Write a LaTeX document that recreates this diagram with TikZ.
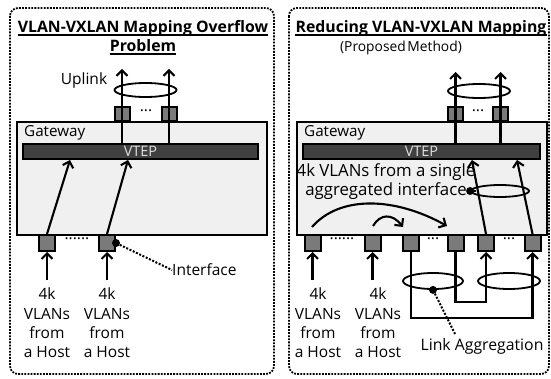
\documentclass[tikz,border=0pt]{standalone}
\usepackage{fontspec}
\setmainfont{Open Sans}
\usetikzlibrary{arrows.meta,shapes.geometric}
\definecolor{gwfill}{HTML}{F0F0F0}
\definecolor{vtepfill}{HTML}{404040}
\definecolor{portfill}{HTML}{7A7A7A}
\definecolor{vteptext}{HTML}{E0E0E0}
\tikzset{
  panel/.style={draw, line width=1.8pt, dash pattern=on 1.8pt off 1.3pt, rounded corners=8pt},
  gwbox/.style={draw, fill=gwfill, line width=1.8pt, minimum width=250pt, minimum height=113pt, inner sep=0pt},
  vtepbar/.style={draw, fill=vtepfill, line width=1.4pt, minimum height=15pt, inner sep=0pt,
    text=vteptext, font=\fontsize{14.5}{14}\selectfont},
  port/.style={draw, fill=portfill, line width=2pt, minimum width=15pt, minimum height=15pt, inner sep=0pt},
  wire/.style={line width=2.1pt},
  arr/.style={wire, -{Straight Barb[length=5.5pt,width=11pt,line width=2.1pt]}},
  lagring/.style={draw, ellipse, line width=1.8pt, inner sep=0pt},
  dotmark/.style={circle, fill=black, minimum size=8pt, inner sep=0pt},
  lead/.style={line width=2pt, dash pattern=on 2pt off 1.6pt},
  lbl/.style={font=\fontsize{15.5}{19.3}\selectfont, inner sep=0pt, align=center},
  ttl/.style={font=\fontsize{15.8}{18}\selectfont\bfseries, inner sep=0pt, anchor=base},
  uline/.style={line width=1.2pt},
}
\begin{document}
\begin{tikzpicture}[x=1pt, y=-1pt]
\useasboundingbox (0,0) rectangle (551,379);

% ---------- left panel: the overflow problem ----------
\draw[panel] (10,8) rectangle (274,374);
\node[ttl] (t1a) at (143,33) {VLAN-VXLAN Mapping Overflow};
\node[ttl] (t1b) at (143,52) {Problem};
\draw[uline] ([yshift=-2pt]t1a.base west) -- ([yshift=-2pt]t1a.base east);
\draw[uline] ([yshift=-2pt]t1b.base west) -- ([yshift=-2pt]t1b.base east);

\node[gwbox] (gw1) at (142,178.5) {};
\node[lbl, anchor=west, font=\fontsize{15.2}{18}\selectfont] (gw1l) at (24,133) {Gateway};
\node[vtepbar, minimum width=235pt] (vt1) at (140.5,151.5) {VTEP};

\node[port, minimum height=14pt] (u1) at (122,114.5) {};
\node[port, minimum height=14pt] (u2) at (169,114.5) {};
\node[lbl] (u1dots) at (146,111) {...};
\coordinate (u1t) at (122,69);
\coordinate (u2t) at (169,69);
\draw[arr] (vt1.north -| u1) -- (u1t);
\draw[arr] (vt1.north -| u2) -- (u2t);
\node[lagring, minimum width=62pt, minimum height=14pt] (up1) at (145.5,90) {};
\node[lbl] (upl) at (84,80) {Uplink};

\node[port, minimum width=16pt, minimum height=16pt] (a1) at (47,243) {};
\node[port, minimum width=16pt, minimum height=16pt] (a2) at (107,243) {};
\node[lbl] (adots) at (77,239) {......};
\coordinate (a1t) at (70,160);
\coordinate (a2t) at (128,160);
\draw[arr] (a1.north) -- (a1t);
\draw[arr] (a2.north) -- (a2t);
\coordinate (h1) at (47,280);
\coordinate (h2) at (107,280);
\draw[arr] (h1) -- (a1.south);
\draw[arr] (h2) -- (a2.south);
\node[lbl, anchor=north] (h1l) at (47,288) {4k\\VLANs\\from\\a Host};
\node[lbl, anchor=north] (h2l) at (107,288) {4k\\VLANs\\from\\a Host};

\node[dotmark] (ifd) at (a2.east) {};
\node[lbl, anchor=west] (ifl) at (172,270) {Interface};
\draw[lead] (ifd) -- (ifl.west);

% ---------- right panel: the proposed method ----------
\draw[panel] (289,8) rectangle (549,374);
\node[ttl] (t2a) at (421,33) {Reducing VLAN-VXLAN Mapping};
\draw[uline] ([yshift=-2pt]t2a.base west) -- ([yshift=-2pt]t2a.base east);
\node[lbl, font=\fontsize{13.8}{14}\selectfont] (t2b) at (401,48) {(Proposed\hspace{0.12em}Method)};

\node[gwbox] (gw2) at (422,178.5) {};
\node[lbl, anchor=west, font=\fontsize{15.2}{18}\selectfont] (gw2l) at (304,133) {Gateway};
\node[vtepbar, minimum width=237pt] (vt2) at (421.5,151.5) {VTEP};

\node[port, minimum height=14pt] (v1) at (455.5,114.5) {};
\node[port, minimum height=14pt] (v2) at (500.5,114.5) {};
\node[lbl] (v1dots) at (478,111) {...};
\coordinate (v1t) at (455.5,72);
\coordinate (v2t) at (500.5,72);
\draw[arr] (vt2.north -| v1) -- (v1t);
\draw[arr] (vt2.north -| v2) -- (v2t);
\node[lagring, minimum width=62pt, minimum height=14pt] (up2) at (479,91) {};

\node[port, minimum width=16pt, minimum height=16pt] (p1) at (312.5,243) {};
\node[port, minimum width=16pt, minimum height=16pt] (p2) at (372.5,243) {};
\node[port, minimum width=16pt, minimum height=16pt] (p3) at (411,243) {};
\node[port, minimum width=16pt, minimum height=16pt] (p4) at (455.5,243) {};
\node[port, minimum width=16pt, minimum height=16pt] (p5) at (486,243) {};
\node[port, minimum width=16pt, minimum height=16pt] (p6) at (532.5,243) {};
\node[lbl] (pdots1) at (342,239) {......};
\node[lbl] (pdots2) at (433,239) {...};
\node[lbl] (pdots3) at (509,239) {...};

\coordinate (h3) at (312.5,280);
\coordinate (h4) at (372.5,280);
\draw[arr] (h3) -- (p1.south);
\draw[arr] (h4) -- (p2.south);
\node[lbl, anchor=north] (h3l) at (318,288) {4k\\VLANs\\from\\a Host};
\node[lbl, anchor=north] (h4l) at (378,288) {4k\\VLANs\\from\\a Host};

% external loops of the link aggregation
\coordinate (w1) at (411,318);
\coordinate (w2) at (455.5,302);
\draw[arr] (p3.south) -- (w1) -| (p6.south);
\draw[arr] (p4.south) -- (w2) -| (p5.south);
\node[lagring, minimum width=60pt, minimum height=16pt] (lag1) at (433,281) {};
\node[lagring, minimum width=62pt, minimum height=16pt] (lag2) at (509,281) {};
\node[dotmark] (lagd) at (lag1.south) {};
\node[lbl, font=\fontsize{15.8}{18}\selectfont] (lagl) at (482,346) {Link Aggregation};
\coordinate (lagend) at (455,334);
\draw[lead] (lagd) -- (lagend);

% internal paths from the aggregated interface to the VTEP
\coordinate (p5t) at (472,160);
\coordinate (p6t) at (517,160);
\draw[arr] (p5.north) -- (p5t);
\draw[arr] (p6.north) -- (p6t);
\node[lagring, minimum width=58pt, minimum height=12pt] (agg) at (500,191) {};
\node[dotmark] (aggd) at (agg.west) {};
\node[lbl, font=\fontsize{16.8}{19}\selectfont] (aggl) at (386,182) {4k VLANs from a single\\aggregated interface};
\draw[lead] (aggl.east |- aggd) -- (aggd);

% mapping arrows between the host ports and the aggregated ports
\coordinate (c1s) at (312,227);
\coordinate (c1e) at (447,226);
\coordinate (c2s) at (373,226);
\coordinate (c2e) at (403,227);
\draw[arr] (c1s) .. controls (340,195) and (395,197) .. (c1e);
\draw[arr] (c2s) .. controls (380,214) and (392,213) .. (c2e);
\end{tikzpicture}
\end{document}
